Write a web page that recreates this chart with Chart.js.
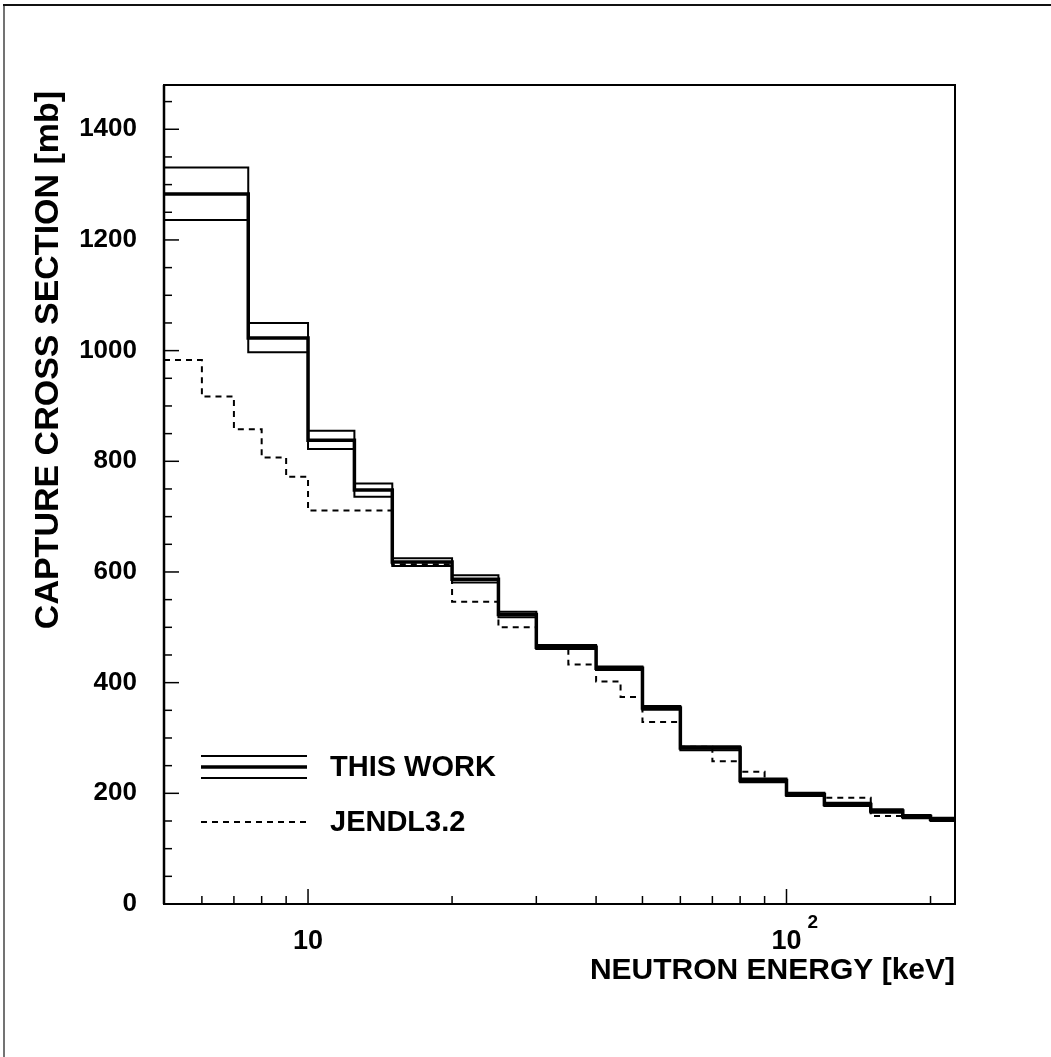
<!DOCTYPE html>
<html>
<head>
<meta charset="utf-8">
<script src="https://cdn.jsdelivr.net/npm/chart.js@4/dist/chart.umd.min.js"></script>
<style>
html, body { margin: 0; padding: 0; background: #fff; }
#wrap { width: 1051px; height: 1057px; position: relative; }
</style>
</head>
<body>
<div id="wrap"><canvas id="c" width="1051" height="1057"></canvas></div>
<script>
// Energy bin edges (keV) of the measured capture cross section
const binEdges = [5, 7.5, 10, 12.5, 15, 20, 25, 30, 40, 50, 60, 80, 100, 120, 150, 175, 200, 225];
// Cross section per bin (mb): central value and the upper / lower uncertainty bounds
const thisWorkCentral = [1283, 1023, 838, 748, 618, 587, 523, 464, 426, 354, 282, 223, 198, 180, 168, 158, 153];
const thisWorkUpper   = [1331, 1050, 855, 760, 625, 594, 528, 468, 429, 358, 285, 227, 201, 183, 171, 161, 156];
const thisWorkLower   = [1236,  997, 822, 736, 611, 581, 518, 461, 423, 351, 278, 220, 195, 177, 165, 155, 150];

// Evaluated library group structure (keV) and group cross sections (mb)
const jendlEdges  = [5, 6, 7, 8, 9, 10, 15, 20, 25, 30, 35, 40, 45, 50, 60, 70, 80, 90, 100, 120, 150, 175, 200, 225];
const jendlValues = [983, 917, 858, 807, 772, 711, 614, 546, 500, 462, 433, 402, 374, 329, 284, 258, 239, 222, 195, 192, 159, 157, 153];

// Axis ranges and tick marks
const xMin = 5, xMax = 225;
const yMax = 1480;
const yTickStep = 50;
const yLabelStep = 200;
const xTickValues = [6, 7, 8, 9, 10, 20, 30, 40, 50, 60, 70, 80, 90, 100, 200];
const xMajorTicks = [10, 100];

const FONT = '"Liberation Sans", Arial, Helvetica, sans-serif';

// Turn bin edges + bin contents into points for a stepped outline
function histPoints(edges, vals) {
  return edges.map((e, i) => ({ x: e, y: vals[Math.min(i, vals.length - 1)] }));
}

function seg(ctx, x1, y1, x2, y2) {
  ctx.beginPath();
  ctx.moveTo(x1, y1);
  ctx.lineTo(x2, y2);
  ctx.stroke();
}

// Frame, inward tick marks, axis labels, titles and legend
const decorations = {
  id: 'decorations',
  beforeDraw(chart) {
    const ctx = chart.ctx;
    ctx.save();
    ctx.fillStyle = '#fff';
    ctx.fillRect(0, 0, chart.width, chart.height);
    // page border (left and top)
    ctx.strokeStyle = '#444';
    ctx.lineWidth = 1.5;
    seg(ctx, 4, 5, 4, chart.height);
    ctx.strokeStyle = '#111';
    ctx.lineWidth = 2;
    seg(ctx, 3, 5, chart.width, 5);
    ctx.restore();
  },
  afterDatasetsDraw(chart) {
    const { ctx, chartArea: a, scales: { x, y } } = chart;
    ctx.save();
    ctx.strokeStyle = '#000';
    ctx.fillStyle = '#000';
    ctx.setLineDash([]);

    // plot frame
    ctx.lineWidth = 2;
    ctx.strokeRect(a.left, a.top, a.right - a.left, a.bottom - a.top);
    ctx.lineWidth = 2.5;
    seg(ctx, a.left, a.top, a.left, a.bottom);

    // y ticks pointing into the plot
    ctx.lineWidth = 1.5;
    y.ticks.forEach(t => {
      const py = y.getPixelForValue(t.value);
      const len = t.value % yLabelStep === 0 ? 15 : 8;
      seg(ctx, a.left, py, a.left + len, py);
    });

    // x ticks pointing into the plot
    x.ticks.forEach(t => {
      const px = x.getPixelForValue(t.value);
      const len = xMajorTicks.includes(t.value) ? 15 : 8;
      seg(ctx, px, a.bottom, px, a.bottom - len);
    });

    // x tick labels: 10 and 10^2
    ctx.textBaseline = 'alphabetic';
    ctx.textAlign = 'center';
    ctx.font = 'bold 27px ' + FONT;
    const p10 = x.getPixelForValue(10);
    ctx.fillText('10', p10, a.bottom + 45);
    const p100 = x.getPixelForValue(100);
    ctx.fillText('10', p100, a.bottom + 45);
    ctx.textAlign = 'left';
    ctx.font = 'bold 19px ' + FONT;
    ctx.fillText('2', p100 + 21, a.bottom + 24);

    // x axis title
    ctx.textAlign = 'right';
    ctx.font = 'bold 30px ' + FONT;
    ctx.fillText('NEUTRON ENERGY [keV]', a.right, a.bottom + 75);

    // y axis title
    ctx.save();
    ctx.translate(49, 360);
    ctx.rotate(-Math.PI / 2);
    ctx.textAlign = 'center';
    ctx.textBaseline = 'middle';
    ctx.font = 'bold 34px ' + FONT;
    ctx.fillText('CAPTURE CROSS SECTION [mb]', 0, 0);
    ctx.restore();

    // legend
    const lx1 = a.left + 37, lx2 = a.left + 143;
    ctx.lineWidth = 2;
    seg(ctx, lx1, 756, lx2, 756);
    seg(ctx, lx1, 778, lx2, 778);
    ctx.lineWidth = 3.5;
    seg(ctx, lx1, 767, lx2, 767);
    ctx.lineWidth = 2;
    ctx.setLineDash([6, 5]);
    seg(ctx, lx1, 822, lx2, 822);
    ctx.setLineDash([]);
    ctx.textAlign = 'left';
    ctx.textBaseline = 'middle';
    ctx.font = 'bold 29px ' + FONT;
    ctx.fillText('THIS WORK', a.left + 166, 768);
    ctx.fillText('JENDL3.2', a.left + 166, 823);

    ctx.restore();
  }
};

const lineStyle = {
  borderColor: '#000',
  pointRadius: 0,
  pointHoverRadius: 0,
  fill: false,
  stepped: 'before',
  tension: 0
};

new Chart(document.getElementById('c'), {
  type: 'line',
  data: {
    datasets: [
      Object.assign({ label: 'THIS WORK (upper)', data: histPoints(binEdges, thisWorkUpper), borderWidth: 2 }, lineStyle),
      Object.assign({ label: 'THIS WORK (lower)', data: histPoints(binEdges, thisWorkLower), borderWidth: 2 }, lineStyle),
      Object.assign({ label: 'THIS WORK', data: histPoints(binEdges, thisWorkCentral), borderWidth: 3.5 }, lineStyle),
      Object.assign({ label: 'JENDL3.2', data: histPoints(jendlEdges, jendlValues), borderWidth: 2, borderDash: [6, 5] }, lineStyle)
    ]
  },
  options: {
    responsive: false,
    animation: false,
    layout: { padding: { left: 0, top: 85, right: 96, bottom: 0 } },
    plugins: {
      legend: { display: false },
      tooltip: { enabled: false }
    },
    scales: {
      x: {
        type: 'logarithmic',
        min: xMin,
        max: xMax,
        afterBuildTicks: s => { s.ticks = xTickValues.map(v => ({ value: v })); },
        afterFit: s => { s.height = 153; },
        grid: { display: false, drawTicks: false },
        border: { display: false },
        ticks: { display: false }
      },
      y: {
        type: 'linear',
        min: 0,
        max: yMax,
        afterBuildTicks: s => {
          const t = [];
          for (let v = 0; v < yMax; v += yTickStep) t.push({ value: v });
          s.ticks = t;
        },
        afterFit: s => { s.width = 164; },
        grid: { display: false, drawTicks: false },
        border: { display: false },
        ticks: {
          autoSkip: false,
          padding: 27,
          color: '#000',
          font: { family: FONT, size: 26, weight: 'bold' },
          callback: v => (v % yLabelStep === 0 ? String(v) : '')
        }
      }
    }
  },
  plugins: [decorations]
});
</script>
</body>
</html>
